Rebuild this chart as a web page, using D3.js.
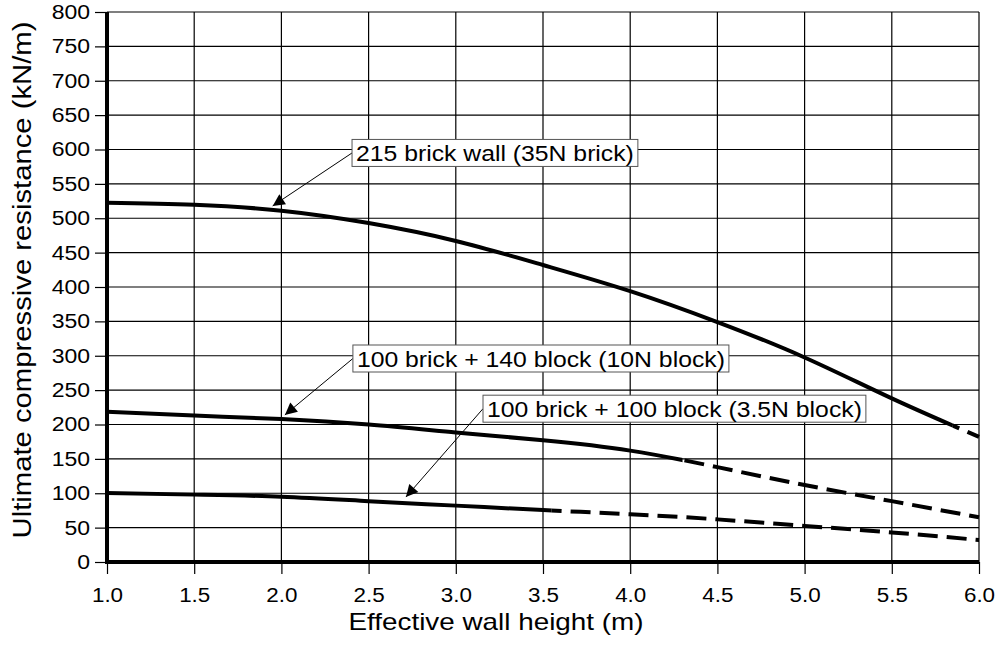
<!DOCTYPE html>
<html>
<head>
<meta charset="utf-8">
<script src="https://cdn.jsdelivr.net/npm/d3@7"></script>
<style>
	body { margin: 0; background: #fff; }
	svg text { font-family: "Liberation Sans", Arial, sans-serif; fill: #000; }
	.grid line { stroke: #000; stroke-width: 1.2; }
	.axis line { stroke: #000; stroke-width: 1.2; }
	.axis text { font-size: 20px; }
</style>
</head>
<body>
<div id="chart"></div>
<script>
// Values
const heights = [1.0, 1.5, 2.0, 2.5, 3.0, 3.5, 4.0, 4.5, 5.0, 5.5, 6.0];
const brick215 = [522.5, 519.5, 511, 493, 467, 432, 394, 349, 297.5, 238, 182];
const brick140 = [218.5, 213, 208, 200, 188.5, 177, 162, 138, 112, 88.5, 65];
const brick100 = [100.5, 98, 95, 88.5, 82, 75.5, 69.5, 62, 52.5, 43, 32];
const seriesNames = ['215 brick wall (35N brick)', '100 brick + 140 block (10N block)', '100 brick + 100 block (3.5N block)'];
const solidUntil = [5.85, 4.3, 3.55];
// label box anchor (left, middle) and arrow tip, in data units
const labelAt = [[2.405, 595], [2.41, 296], [3.156, 223]];
const arrowTip = [[1.95, 518], [2.02, 214], [2.714, 94.5]];
const xTicks = [1.0, 1.5, 2.0, 2.5, 3.0, 3.5, 4.0, 4.5, 5.0, 5.5, 6.0];
const yTicks = d3.range(0, 801, 50);

const width = 998, height = 646,
	margin = {top: 12, right: 19, bottom: 84, left: 107},
	innerWidth = width - margin.left - margin.right,
	innerHeight = height - margin.top - margin.bottom;

// The original lettering is a bit wider than Liberation Sans, stretch it a little.
function widen(sel, factor) {
	sel.each(function() {
		const len = this.getComputedTextLength();
		d3.select(this)
			.attr('textLength', len * factor)
			.attr('lengthAdjust', 'spacingAndGlyphs');
	});
}

const svg = d3.select('#chart').append('svg')
	.attr('width', width)
	.attr('height', height);

const defs = svg.append('defs');
defs.append('marker')
	.attr('id', 'arrowhead')
	.attr('viewBox', '0 0 10 10')
	.attr('refX', 10).attr('refY', 5)
	.attr('markerUnits', 'userSpaceOnUse')
	.attr('markerWidth', 17).attr('markerHeight', 12)
	.attr('orient', 'auto')
	.append('path')
		.attr('d', 'M0,0 L10,5 L0,10 Z')
		.attr('fill', '#000');

const g = svg.append('g')
	.attr('transform', `translate(${margin.left},${margin.top})`);

const x = d3.scaleLinear().domain([1, 6]).range([0, innerWidth]);
const y = d3.scaleLinear().domain([0, 800]).range([innerHeight, 0]);

// grid
const grid = g.append('g').classed('grid', true);
grid.selectAll('.v').data(xTicks.slice(1)).enter().append('line')
	.attr('x1', d => x(d)).attr('x2', d => x(d))
	.attr('y1', 0).attr('y2', innerHeight);
grid.selectAll('.h').data(yTicks.slice(1)).enter().append('line')
	.attr('x1', 0).attr('x2', innerWidth)
	.attr('y1', d => y(d)).attr('y2', d => y(d));

// axes
const yAxis = g.append('g').classed('axis', true)
	.call(d3.axisLeft(y).tickValues(yTicks).tickSize(12).tickPadding(5).tickFormat(d3.format('d')));
yAxis.attr('font-family', null);
yAxis.select('.domain').remove();
widen(yAxis.selectAll('text'), 1.15);

const xAxis = g.append('g').classed('axis', true)
	.attr('transform', `translate(0,${innerHeight})`)
	.call(d3.axisBottom(x).tickValues(xTicks).tickSize(12).tickPadding(14).tickFormat(d3.format('.1f')));
xAxis.attr('font-family', null);
xAxis.select('.domain').remove();
widen(xAxis.selectAll('text'), 1.12);

// thick axis lines
g.append('line').attr('x1', 0).attr('x2', 0).attr('y1', 0).attr('y2', innerHeight + 2)
	.attr('stroke', '#000').attr('stroke-width', 4);
g.append('line').attr('x1', -2).attr('x2', innerWidth).attr('y1', innerHeight).attr('y2', innerHeight)
	.attr('stroke', '#000').attr('stroke-width', 4);

// curves: solid part and dashed extrapolation, split by clip paths
const allSeries = [brick215, brick140, brick100];
const line = d3.line()
	.x((d, i) => x(heights[i]))
	.y(d => y(d))
	.curve(d3.curveNatural);

allSeries.forEach((vals, k) => {
	defs.append('clipPath').attr('id', `solid${k}`)
		.append('rect').attr('x', -5).attr('y', -5)
		.attr('width', x(solidUntil[k]) + 5).attr('height', innerHeight + 10);
	defs.append('clipPath').attr('id', `dash${k}`)
		.append('rect').attr('x', x(solidUntil[k])).attr('y', -5)
		.attr('width', innerWidth - x(solidUntil[k]) + 5).attr('height', innerHeight + 10);

	g.append('path').datum(vals)
		.attr('d', line)
		.attr('fill', 'none').attr('stroke', '#000').attr('stroke-width', 4)
		.attr('clip-path', `url(#solid${k})`);
	g.append('path').datum(vals)
		.attr('d', line)
		.attr('fill', 'none').attr('stroke', '#000').attr('stroke-width', 4)
		.attr('stroke-dasharray', '20,9')
		.attr('clip-path', `url(#dash${k})`);
});

// annotations
seriesNames.forEach((name, k) => {
	const lx = x(labelAt[k][0]), ly = y(labelAt[k][1]);
	const ann = g.append('g');
	ann.append('line')
		.attr('x1', lx).attr('y1', ly)
		.attr('x2', x(arrowTip[k][0])).attr('y2', y(arrowTip[k][1]))
		.attr('stroke', '#000').attr('stroke-width', 1)
		.attr('marker-end', 'url(#arrowhead)');
	const box = ann.append('rect');
	const txt = ann.append('text')
		.attr('x', lx + 4).attr('y', ly)
		.attr('dy', '0.36em')
		.style('font-size', '22.5px')
		.text(name);
	widen(txt, 1.1);
	const w = +txt.attr('textLength');
	box.attr('x', lx).attr('y', ly - 13.5)
		.attr('width', w + 8).attr('height', 27)
		.attr('fill', '#fff').attr('stroke', '#555').attr('stroke-width', 1);
});

// axis titles
const xTitle = svg.append('text')
	.attr('x', 496).attr('y', 630)
	.attr('text-anchor', 'middle')
	.style('font-size', '24px')
	.text('Effective wall height (m)');
widen(xTitle, 1.16);

const yTitle = svg.append('text')
	.attr('transform', `translate(31,280) rotate(-90)`)
	.attr('text-anchor', 'middle')
	.style('font-size', '25px')
	.text('Ultimate compressive resistance (kN/m)');
widen(yTitle, 1.17);
</script>
</body>
</html>
